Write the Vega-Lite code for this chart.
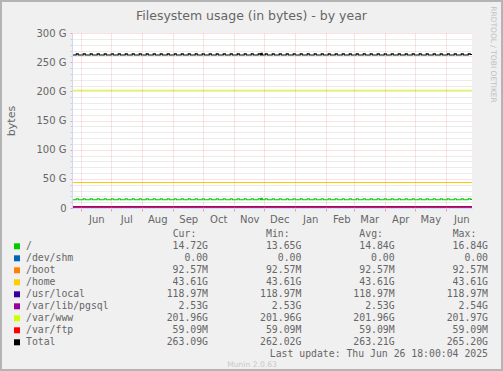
{
  "$schema": "https://vega.github.io/schema/vega-lite/v6.json",
  "width": 503,
  "height": 371,
  "autosize": {"type": "none"},
  "padding": 0,
  "background": "#f0f0f0",
  "config": {
    "view": {"fill": "#f0f0f0", "stroke": "#b4b4b4", "strokeWidth": 4},
    "font": "DejaVu Sans",
    "axis": {"labelFont": "DejaVu Sans", "titleFont": "DejaVu Sans", "labelColor": "#666666", "titleColor": "#666666", "titleFontWeight": "normal"}
  },
  "title": {"text": "Filesystem usage (in bytes) - by year", "font": "DejaVu Sans", "fontSize": 12.5, "fontWeight": "normal", "color": "#666666", "anchor": "middle", "offset": -32, "baseline": "alphabetic"},
  "datasets": {
    "frame": [{"t0": "2024-05-22T18:00:00", "t1": "2025-06-26T18:00:00", "v0": 0, "v1": 300}],
    "flat": [
      {"t": "2024-05-22T18:00:00", "s": "/dev/shm", "v": 0},
      {"t": "2025-06-26T18:00:00", "s": "/dev/shm", "v": 0},
      {"t": "2024-05-22T18:00:00", "s": "/boot", "v": 0.09257},
      {"t": "2025-06-26T18:00:00", "s": "/boot", "v": 0.09257},
      {"t": "2024-05-22T18:00:00", "s": "/home", "v": 43.61},
      {"t": "2025-06-26T18:00:00", "s": "/home", "v": 43.61},
      {"t": "2024-05-22T18:00:00", "s": "/usr/local", "v": 0.11897},
      {"t": "2025-06-26T18:00:00", "s": "/usr/local", "v": 0.11897},
      {"t": "2024-05-22T18:00:00", "s": "/var/lib/pgsql", "v": 2.53},
      {"t": "2025-06-26T18:00:00", "s": "/var/lib/pgsql", "v": 2.53},
      {"t": "2024-05-22T18:00:00", "s": "/var/www", "v": 201.96},
      {"t": "2025-06-26T18:00:00", "s": "/var/www", "v": 201.96},
      {"t": "2024-05-22T18:00:00", "s": "/var/ftp", "v": 0.05909},
      {"t": "2025-06-26T18:00:00", "s": "/var/ftp", "v": 0.05909}
    ],
    "wavy": [
      {"t": "2024-05-22T18:00:00", "r": 14.2, "T": 262.4}, {"t": "2024-05-27T00:00:00", "r": 15.8, "T": 264.2},
      {"t": "2024-05-29T00:00:00", "r": 14.2, "T": 262.4}, {"t": "2024-06-03T00:00:00", "r": 15.8, "T": 264.2},
      {"t": "2024-06-05T00:00:00", "r": 14.2, "T": 262.4}, {"t": "2024-06-10T00:00:00", "r": 15.8, "T": 264.2},
      {"t": "2024-06-12T00:00:00", "r": 14.2, "T": 262.4}, {"t": "2024-06-17T00:00:00", "r": 15.8, "T": 264.2},
      {"t": "2024-06-19T00:00:00", "r": 14.2, "T": 262.4}, {"t": "2024-06-24T00:00:00", "r": 15.8, "T": 264.2},
      {"t": "2024-06-26T00:00:00", "r": 14.2, "T": 262.4}, {"t": "2024-07-01T00:00:00", "r": 15.8, "T": 264.2},
      {"t": "2024-07-03T00:00:00", "r": 14.2, "T": 262.4}, {"t": "2024-07-08T00:00:00", "r": 15.8, "T": 264.2},
      {"t": "2024-07-10T00:00:00", "r": 14.2, "T": 262.4}, {"t": "2024-07-15T00:00:00", "r": 15.8, "T": 264.2},
      {"t": "2024-07-17T00:00:00", "r": 14.2, "T": 262.4}, {"t": "2024-07-22T00:00:00", "r": 15.8, "T": 264.2},
      {"t": "2024-07-24T00:00:00", "r": 14.2, "T": 262.4}, {"t": "2024-07-29T00:00:00", "r": 15.8, "T": 264.2},
      {"t": "2024-07-31T00:00:00", "r": 14.2, "T": 262.4}, {"t": "2024-08-05T00:00:00", "r": 15.8, "T": 264.2},
      {"t": "2024-08-07T00:00:00", "r": 14.2, "T": 262.4}, {"t": "2024-08-12T00:00:00", "r": 15.8, "T": 264.2},
      {"t": "2024-08-14T00:00:00", "r": 14.2, "T": 262.4}, {"t": "2024-08-19T00:00:00", "r": 15.8, "T": 264.2},
      {"t": "2024-08-21T00:00:00", "r": 14.2, "T": 262.4}, {"t": "2024-08-26T00:00:00", "r": 15.8, "T": 264.2},
      {"t": "2024-08-28T00:00:00", "r": 14.2, "T": 262.4}, {"t": "2024-09-02T00:00:00", "r": 15.8, "T": 264.2},
      {"t": "2024-09-04T00:00:00", "r": 14.2, "T": 262.4}, {"t": "2024-09-09T00:00:00", "r": 15.8, "T": 264.2},
      {"t": "2024-09-11T00:00:00", "r": 14.2, "T": 262.4}, {"t": "2024-09-16T00:00:00", "r": 15.8, "T": 264.2},
      {"t": "2024-09-18T00:00:00", "r": 14.2, "T": 262.4}, {"t": "2024-09-23T00:00:00", "r": 15.8, "T": 264.2},
      {"t": "2024-09-25T00:00:00", "r": 14.2, "T": 262.4}, {"t": "2024-09-30T00:00:00", "r": 15.8, "T": 264.2},
      {"t": "2024-10-02T00:00:00", "r": 14.2, "T": 262.4}, {"t": "2024-10-07T00:00:00", "r": 15.8, "T": 264.2},
      {"t": "2024-10-09T00:00:00", "r": 14.2, "T": 262.4}, {"t": "2024-10-14T00:00:00", "r": 15.8, "T": 264.2},
      {"t": "2024-10-16T00:00:00", "r": 14.2, "T": 262.4}, {"t": "2024-10-21T00:00:00", "r": 15.8, "T": 264.2},
      {"t": "2024-10-23T00:00:00", "r": 14.2, "T": 262.4}, {"t": "2024-10-28T00:00:00", "r": 15.8, "T": 264.2},
      {"t": "2024-10-30T00:00:00", "r": 14.2, "T": 262.4}, {"t": "2024-11-04T00:00:00", "r": 15.8, "T": 264.2},
      {"t": "2024-11-06T00:00:00", "r": 14.2, "T": 262.4}, {"t": "2024-11-11T00:00:00", "r": 15.8, "T": 264.2},
      {"t": "2024-11-13T00:00:00", "r": 14.2, "T": 262.4}, {"t": "2024-11-18T00:00:00", "r": 15.8, "T": 264.2},
      {"t": "2024-11-20T00:00:00", "r": 14.2, "T": 262.4}, {"t": "2024-11-25T00:00:00", "r": 15.8, "T": 264.2},
      {"t": "2024-11-27T00:00:00", "r": 14.2, "T": 262.4}, {"t": "2024-11-28T00:00:00", "r": 16.8, "T": 265.2},
      {"t": "2024-11-29T00:00:00", "r": 14.2, "T": 262.4}, {"t": "2024-12-02T00:00:00", "r": 15.8, "T": 264.2},
      {"t": "2024-12-04T00:00:00", "r": 14.2, "T": 262.4}, {"t": "2024-12-09T00:00:00", "r": 15.8, "T": 264.2},
      {"t": "2024-12-11T00:00:00", "r": 14.2, "T": 262.4}, {"t": "2024-12-16T00:00:00", "r": 15.8, "T": 264.2},
      {"t": "2024-12-18T00:00:00", "r": 14.2, "T": 262.4}, {"t": "2024-12-23T00:00:00", "r": 15.8, "T": 264.2},
      {"t": "2024-12-25T00:00:00", "r": 14.2, "T": 262.4}, {"t": "2024-12-30T00:00:00", "r": 15.8, "T": 264.2},
      {"t": "2025-01-01T00:00:00", "r": 14.2, "T": 262.4}, {"t": "2025-01-06T00:00:00", "r": 15.8, "T": 264.2},
      {"t": "2025-01-08T00:00:00", "r": 14.2, "T": 262.4}, {"t": "2025-01-13T00:00:00", "r": 15.8, "T": 264.2},
      {"t": "2025-01-15T00:00:00", "r": 14.2, "T": 262.4}, {"t": "2025-01-20T00:00:00", "r": 15.8, "T": 264.2},
      {"t": "2025-01-22T00:00:00", "r": 14.2, "T": 262.4}, {"t": "2025-01-27T00:00:00", "r": 15.8, "T": 264.2},
      {"t": "2025-01-29T00:00:00", "r": 14.2, "T": 262.4}, {"t": "2025-02-03T00:00:00", "r": 15.8, "T": 264.2},
      {"t": "2025-02-05T00:00:00", "r": 14.2, "T": 262.4}, {"t": "2025-02-10T00:00:00", "r": 15.8, "T": 264.2},
      {"t": "2025-02-12T00:00:00", "r": 14.2, "T": 262.4}, {"t": "2025-02-17T00:00:00", "r": 15.8, "T": 264.2},
      {"t": "2025-02-19T00:00:00", "r": 14.2, "T": 262.4}, {"t": "2025-02-24T00:00:00", "r": 15.8, "T": 264.2},
      {"t": "2025-02-26T00:00:00", "r": 14.2, "T": 262.4}, {"t": "2025-03-03T00:00:00", "r": 15.8, "T": 264.2},
      {"t": "2025-03-05T00:00:00", "r": 14.2, "T": 262.4}, {"t": "2025-03-10T00:00:00", "r": 15.8, "T": 264.2},
      {"t": "2025-03-12T00:00:00", "r": 14.2, "T": 262.4}, {"t": "2025-03-17T00:00:00", "r": 15.8, "T": 264.2},
      {"t": "2025-03-19T00:00:00", "r": 14.2, "T": 262.4}, {"t": "2025-03-24T00:00:00", "r": 15.8, "T": 264.2},
      {"t": "2025-03-26T00:00:00", "r": 14.2, "T": 262.4}, {"t": "2025-03-31T00:00:00", "r": 15.8, "T": 264.2},
      {"t": "2025-04-02T00:00:00", "r": 14.2, "T": 262.4}, {"t": "2025-04-07T00:00:00", "r": 15.8, "T": 264.2},
      {"t": "2025-04-09T00:00:00", "r": 14.2, "T": 262.4}, {"t": "2025-04-14T00:00:00", "r": 15.8, "T": 264.2},
      {"t": "2025-04-16T00:00:00", "r": 14.2, "T": 262.4}, {"t": "2025-04-21T00:00:00", "r": 15.8, "T": 264.2},
      {"t": "2025-04-23T00:00:00", "r": 14.2, "T": 262.4}, {"t": "2025-04-28T00:00:00", "r": 15.8, "T": 264.2},
      {"t": "2025-04-30T00:00:00", "r": 14.2, "T": 262.4}, {"t": "2025-05-05T00:00:00", "r": 15.8, "T": 264.2},
      {"t": "2025-05-07T00:00:00", "r": 14.2, "T": 262.4}, {"t": "2025-05-12T00:00:00", "r": 15.8, "T": 264.2},
      {"t": "2025-05-14T00:00:00", "r": 14.2, "T": 262.4}, {"t": "2025-05-19T00:00:00", "r": 15.8, "T": 264.2},
      {"t": "2025-05-21T00:00:00", "r": 14.2, "T": 262.4}, {"t": "2025-05-26T00:00:00", "r": 15.8, "T": 264.2},
      {"t": "2025-05-28T00:00:00", "r": 14.2, "T": 262.4}, {"t": "2025-06-02T00:00:00", "r": 15.8, "T": 264.2},
      {"t": "2025-06-04T00:00:00", "r": 14.2, "T": 262.4}, {"t": "2025-06-09T00:00:00", "r": 15.8, "T": 264.2},
      {"t": "2025-06-11T00:00:00", "r": 14.2, "T": 262.4}, {"t": "2025-06-16T00:00:00", "r": 15.8, "T": 264.2},
      {"t": "2025-06-18T00:00:00", "r": 14.2, "T": 262.4}, {"t": "2025-06-23T00:00:00", "r": 15.8, "T": 264.2},
      {"t": "2025-06-25T00:00:00", "r": 14.72, "T": 263.09}, {"t": "2025-06-26T18:00:00", "r": 14.72, "T": 263.09}
    ],
    "legend": [
      {"i": 0, "name": "", "cur": "Cur:", "min": "Min:", "avg": "Avg:", "max": "Max:"},
      {"i": 1, "name": "/", "cur": "14.72G", "min": "13.65G", "avg": "14.84G", "max": "16.84G"},
      {"i": 2, "name": "/dev/shm", "cur": "0.00\u00a0", "min": "0.00\u00a0", "avg": "0.00\u00a0", "max": "0.00\u00a0"},
      {"i": 3, "name": "/boot", "cur": "92.57M", "min": "92.57M", "avg": "92.57M", "max": "92.57M"},
      {"i": 4, "name": "/home", "cur": "43.61G", "min": "43.61G", "avg": "43.61G", "max": "43.61G"},
      {"i": 5, "name": "/usr/local", "cur": "118.97M", "min": "118.97M", "avg": "118.97M", "max": "118.97M"},
      {"i": 6, "name": "/var/lib/pgsql", "cur": "2.53G", "min": "2.53G", "avg": "2.53G", "max": "2.54G"},
      {"i": 7, "name": "/var/www", "cur": "201.96G", "min": "201.96G", "avg": "201.96G", "max": "201.97G"},
      {"i": 8, "name": "/var/ftp", "cur": "59.09M", "min": "59.09M", "avg": "59.09M", "max": "59.09M"},
      {"i": 9, "name": "Total", "cur": "263.09G", "min": "262.02G", "avg": "263.21G", "max": "265.20G"},
      {"i": 10, "name": "", "cur": "", "min": "", "avg": "", "max": "Last update: Thu Jun 26 18:00:04 2025"}
    ]
  },
  "layer": [
    {
      "layer": [
        {
          "data": {"name": "frame"},
          "mark": {"type": "rect", "fill": "#ffffff"},
          "encoding": {
            "x": {
              "field": "t0", "type": "temporal",
              "scale": {"domain": [{"year": 2024, "month": 5, "date": 22, "hours": 18}, {"year": 2025, "month": 6, "date": 26, "hours": 18}], "range": [72, 472], "nice": false},
              "axis": {
                "orient": "top", "offset": -208, "zindex": 1,
                "tickCount": {"interval": "month", "step": 1}, "format": "%b",
                "labelOffset": 15, "labelPadding": -11, "labelBaseline": "alphabetic", "labelAlign": "center", "labelFontSize": 10,
                "labelOverlap": false, "labelFlush": false, "labelBound": false,
                "ticks": true, "tickSize": -3, "tickColor": "#f0a0a0",
                "grid": true, "gridColor": "#f08080", "gridOpacity": 0.45, "gridDash": [1, 1],
                "domainColor": "#cfd6f8",
                "title": "Munin 2.0.63", "titleX": 251.5, "titleY": 158, "titleAlign": "center", "titleBaseline": "alphabetic", "titleAngle": 0, "titleFontSize": 7.6, "titleColor": "#c8c8c8"
              }
            },
            "x2": {"field": "t1"},
            "y": {
              "field": "v0", "type": "quantitative",
              "scale": {"domain": [0, 300], "range": [208, 33], "nice": false},
              "axis": {
                "orient": "left", "offset": -72, "zindex": 1,
                "values": [0, 10, 20, 30, 40, 50, 60, 70, 80, 90, 100, 110, 120, 130, 140, 150, 160, 170, 180, 190, 200, 210, 220, 230, 240, 250, 260, 270, 280, 290, 300],
                "labelExpr": "datum.value % 50 === 0 ? (datum.value === 0 ? '0' : datum.value + ' G') : ''",
                "labelFontSize": 10, "labelPadding": 4, "labelBaseline": "middle", "labelOverlap": false, "labelFlush": false, "labelBound": false,
                "tickSize": 2,
                "tickColor": {"condition": {"test": "datum.value % 50 === 0", "value": "#f0a0a0"}, "value": "#d0d0d0"},
                "grid": true,
                "gridColor": {"condition": {"test": "datum.value % 50 === 0", "value": "#f08080"}, "value": "#a0a0a0"},
                "gridOpacity": {"condition": {"test": "datum.value % 50 === 0", "value": 0.45}, "value": 0.4},
                "gridDash": [1, 1],
                "domainColor": "#cfd6f8",
                "title": "bytes", "titleFontSize": 11, "titleX": -57.5, "titleY": 120.5, "titleAngle": -90, "titleBaseline": "alphabetic", "titleAlign": "center"
              }
            },
            "y2": {"field": "v1"}
          }
        },
        {
          "data": {"name": "wavy"},
          "mark": {"type": "line", "interpolate": "step-after", "strokeWidth": 1.1},
          "encoding": {
            "x": {"field": "t", "type": "temporal"},
            "y": {"field": "r", "type": "quantitative", "axis": null},
            "color": {"datum": "/", "type": "nominal", "legend": null}
          }
        },
        {
          "data": {"name": "flat"},
          "mark": {"type": "line", "strokeWidth": 1.1},
          "encoding": {
            "x": {"field": "t", "type": "temporal"},
            "y": {
              "field": "v", "type": "quantitative",
              "axis": {"orient": "right", "offset": 0, "labels": false, "ticks": false, "domain": false, "grid": false,
                       "title": "RRDTOOL / TOBI OETIKER", "titleAngle": 90, "titleX": -12.3, "titleY": 54, "titleBaseline": "alphabetic", "titleAlign": "center", "titleFontSize": 7.5, "titleColor": "#c0c0c0"}
            },
            "color": {
              "field": "s", "type": "nominal", "legend": null,
              "scale": {"domain": ["/", "/dev/shm", "/boot", "/home", "/usr/local", "/var/lib/pgsql", "/var/www", "/var/ftp", "Total"],
                        "range": ["#00cc00", "#0066b3", "#ff8000", "#ffcc00", "#330099", "#990099", "#ccff00", "#ff0000", "#000000"]}
            }
          }
        },
        {
          "data": {"name": "wavy"},
          "mark": {"type": "line", "interpolate": "step-after", "strokeWidth": 1.1},
          "encoding": {
            "x": {"field": "t", "type": "temporal"},
            "y": {"field": "T", "type": "quantitative", "axis": null},
            "color": {"datum": "Total", "type": "nominal", "legend": null}
          }
        }
      ],
      "resolve": {"axis": {"y": "independent"}}
    },
    {
      "data": {"name": "legend"},
      "layer": [
        {
          "transform": [{"filter": "datum.i > 0"}, {"fold": ["cur", "min", "avg", "max"], "as": ["col", "txt"]}],
          "mark": {"type": "text", "align": "right", "baseline": "alphabetic", "font": "DejaVu Sans Mono", "fontSize": 9.8, "color": "#666666"},
          "encoding": {
            "x": {"field": "col", "type": "nominal", "scale": {"type": "point", "domain": ["cur", "min", "avg", "max"], "range": [208, 488], "padding": 0}, "axis": null},
            "y": {"field": "i", "type": "ordinal", "scale": {"type": "point", "domain": [0, 1, 2, 3, 4, 5, 6, 7, 8, 9, 10], "range": [236.7, 356.7], "padding": 0}, "axis": null},
            "text": {"field": "txt", "type": "nominal"}
          }
        },
        {
          "transform": [{"filter": "datum.i === 0"}, {"fold": ["cur", "min", "avg", "max"], "as": ["col", "txt"]}],
          "mark": {"type": "text", "align": "right", "baseline": "alphabetic", "font": "DejaVu Sans Mono", "fontSize": 9.8, "color": "#666666", "dx": -11.7},
          "encoding": {
            "x": {"field": "col", "type": "nominal", "scale": {"type": "point", "domain": ["cur", "min", "avg", "max"], "range": [208, 488], "padding": 0}, "axis": null},
            "y": {"field": "i", "type": "ordinal", "scale": {"type": "point", "domain": [0, 1, 2, 3, 4, 5, 6, 7, 8, 9, 10], "range": [236.7, 356.7], "padding": 0}, "axis": null},
            "text": {"field": "txt", "type": "nominal"}
          }
        },
        {
          "transform": [{"filter": "datum.i > 0 && datum.i < 10"}],
          "layer": [
            {
              "mark": {"type": "square", "size": 36, "opacity": 1, "filled": true, "yOffset": -2.4},
              "encoding": {
                "x": {"datum": "sw", "type": "nominal", "scale": {"type": "point", "domain": ["sw", "nm"], "range": [17, 26], "padding": 0}, "axis": null},
                "y": {"field": "i", "type": "ordinal", "scale": {"type": "point", "domain": [0, 1, 2, 3, 4, 5, 6, 7, 8, 9, 10], "range": [236.7, 356.7], "padding": 0}, "axis": null},
                "color": {"field": "name", "type": "nominal", "legend": null}
              }
            },
            {
              "mark": {"type": "text", "align": "left", "baseline": "alphabetic", "font": "DejaVu Sans Mono", "fontSize": 9.8, "color": "#666666"},
              "encoding": {
                "x": {"datum": "nm", "type": "nominal"},
                "y": {"field": "i", "type": "ordinal"},
                "text": {"field": "name", "type": "nominal"}
              }
            }
          ]
        }
      ],
      "resolve": {"scale": {"x": "independent"}}
    }
  ],
  "resolve": {"scale": {"x": "independent", "y": "independent"}}
}
